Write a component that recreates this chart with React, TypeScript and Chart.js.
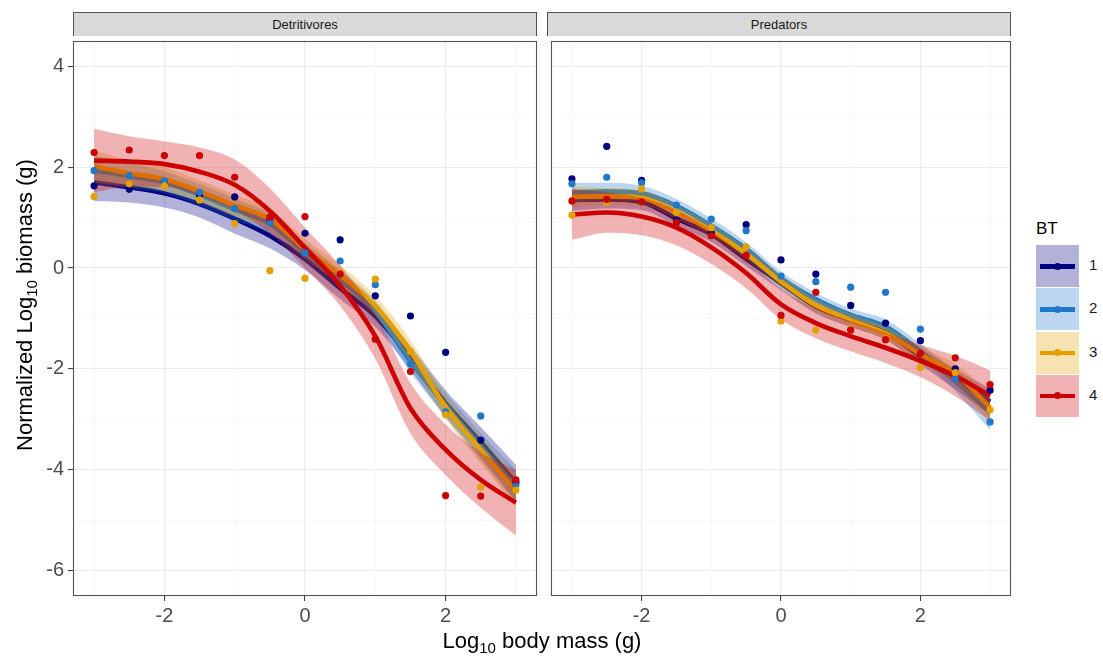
import React, { useEffect, useRef } from 'react';
import { Chart, registerables } from 'chart.js';

Chart.register(...registerables);

// ---------- data ----------
const xValues = [-3, -2.5, -2, -1.5, -1, -0.5, 0, 0.5, 1, 1.5, 2, 2.5, 3];
const groupLabels = ['1', '2', '3', '4'];
const panelTitles = ['Detritivores', 'Predators'];
const xGridValues = [-3, -2, -1, 0, 1, 2, 3];
const xLabelValues = [-2, 0, 2];
const yGridValues = [-6, -5, -4, -3, -2, -1, 0, 1, 2, 3, 4];
const yLabelValues = [-6, -4, -2, 0, 2, 4];

// Detritivores: observed points
const detPointsBT1 = [1.63, 1.56, 1.72, 1.45, 1.41, 0.95, 0.69, 0.56, -0.55, -0.95, -1.67, -3.41, -4.25];
const detPointsBT2 = [1.93, 1.83, 1.73, 1.5, 1.18, 0.9, 0.3, 0.14, -0.33, -1.9, -2.85, -2.93, -4.3];
const detPointsBT3 = [1.42, 1.67, 1.63, 1.35, 0.88, -0.05, -0.2, -0.09, -0.22, -1.65, -2.91, -4.34, -4.4];
const detPointsBT4 = [2.29, 2.34, 2.23, 2.23, 1.8, 1.01, 1.02, -0.12, -1.41, -2.05, -4.51, -4.52, -4.2];
// Detritivores: smoothed fits
const detFitBT1 = [1.7, 1.6, 1.48, 1.27, 0.98, 0.64, 0.18, -0.4, -0.95, -1.78, -2.68, -3.45, -4.26];
const detFitBT2 = [1.93, 1.83, 1.7, 1.45, 1.16, 0.88, 0.3, -0.24, -0.85, -1.85, -2.72, -3.54, -4.33];
const detFitBT3 = [2.01, 1.88, 1.76, 1.52, 1.24, 0.97, 0.38, -0.14, -0.75, -1.65, -2.75, -3.6, -4.42];
const detFitBT4 = [2.13, 2.11, 2.06, 1.91, 1.65, 1.13, 0.4, -0.35, -1.35, -2.78, -3.6, -4.2, -4.65];
// Detritivores: confidence band half-widths
const detSeBT1 = [0.37, 0.3, 0.28, 0.27, 0.3, 0.25, 0.22, 0.22, 0.22, 0.24, 0.26, 0.3, 0.36];
const detSeBT2 = [0.3, 0.25, 0.22, 0.22, 0.22, 0.2, 0.2, 0.2, 0.2, 0.22, 0.24, 0.27, 0.32];
const detSeBT3 = [0.32, 0.26, 0.24, 0.22, 0.22, 0.2, 0.2, 0.2, 0.2, 0.22, 0.24, 0.27, 0.32];
const detSeBT4 = [0.63, 0.5, 0.45, 0.48, 0.5, 0.45, 0.4, 0.4, 0.45, 0.5, 0.5, 0.55, 0.65];

// Predators: observed points
const predPointsBT1 = [1.77, 2.41, 1.74, 0.95, 0.7, 0.86, 0.16, -0.12, -0.74, -1.09, -1.44, -2.0, -2.42];
const predPointsBT2 = [1.67, 1.8, 1.69, 1.25, 0.97, 0.74, -0.16, -0.27, -0.38, -0.48, -1.21, -2.2, -3.05];
const predPointsBT3 = [1.05, 1.3, 1.57, 1.1, 0.8, 0.42, -1.05, -1.23, -1.2, -1.4, -1.97, -2.07, -2.81];
const predPointsBT4 = [1.33, 1.36, 1.31, 0.9, 0.64, 0.25, -0.94, -0.48, -1.23, -1.42, -1.69, -1.78, -2.31];
// Predators: smoothed fits
const predFitBT1 = [1.35, 1.36, 1.31, 0.98, 0.67, 0.18, -0.3, -0.76, -1.03, -1.27, -1.75, -2.2, -2.65];
const predFitBT2 = [1.49, 1.52, 1.48, 1.23, 0.84, 0.38, -0.2, -0.62, -0.93, -1.16, -1.65, -2.24, -2.86];
const predFitBT3 = [1.41, 1.42, 1.39, 1.11, 0.74, 0.28, -0.27, -0.74, -1.03, -1.29, -1.71, -2.1, -2.76];
const predFitBT4 = [1.06, 1.1, 1.02, 0.8, 0.41, -0.1, -0.72, -1.09, -1.35, -1.58, -1.84, -2.14, -2.53];
// Predators: confidence band half-widths
const predSeBT1 = [0.22, 0.18, 0.16, 0.15, 0.15, 0.14, 0.14, 0.14, 0.14, 0.15, 0.16, 0.2, 0.26];
const predSeBT2 = [0.2, 0.17, 0.15, 0.14, 0.14, 0.13, 0.13, 0.13, 0.13, 0.14, 0.15, 0.2, 0.35];
const predSeBT3 = [0.2, 0.17, 0.15, 0.14, 0.14, 0.13, 0.13, 0.13, 0.13, 0.14, 0.15, 0.2, 0.3];
const predSeBT4 = [0.5, 0.4, 0.37, 0.35, 0.33, 0.3, 0.3, 0.3, 0.3, 0.3, 0.32, 0.4, 0.5];

// ---------- styles ----------
const lineColors = ['#00007f', '#1f78c8', '#e69f00', '#cc0000'];
const ribbonColors = [
  'rgba(0,0,128,0.3)',
  'rgba(31,120,200,0.3)',
  'rgba(230,159,0,0.3)',
  'rgba(204,0,0,0.3)',
];
const FONT = '"Liberation Sans", Arial, sans-serif';

const panelBorder = {
  id: 'panelBorder',
  afterDraw(chart: any) {
    const { ctx, chartArea } = chart;
    ctx.save();
    ctx.strokeStyle = '#555555';
    ctx.lineWidth = 1.1;
    ctx.strokeRect(chartArea.left + 0.5, chartArea.top + 0.5, chartArea.right - chartArea.left - 1, chartArea.bottom - chartArea.top - 1);
    ctx.restore();
  },
};

function buildDatasets(points: number[][], fits: number[][], ses: number[][]) {
  const ds: any[] = [];
  for (let g = 0; g < 4; g++) {
    const lower = xValues.map((x, i) => ({ x, y: fits[g][i] - ses[g][i] }));
    const upper = xValues.map((x, i) => ({ x, y: fits[g][i] + ses[g][i] }));
    const fit = xValues.map((x, i) => ({ x, y: fits[g][i] }));
    const pts = xValues.map((x, i) => ({ x, y: points[g][i] }));
    const base = 100 - g * 3;
    const smooth = { cubicInterpolationMode: 'monotone' };
    ds.push({
      type: 'line', label: 'lo' + g, data: lower, showLine: true, borderWidth: 0,
      borderColor: 'rgba(0,0,0,0)', pointRadius: 0, fill: false, order: base, ...smooth,
    });
    ds.push({
      type: 'line', label: 'hi' + g, data: upper, showLine: true, borderWidth: 0,
      borderColor: 'rgba(0,0,0,0)', pointRadius: 0, fill: '-1', backgroundColor: ribbonColors[g],
      order: base - 1, ...smooth,
    });
    ds.push({
      type: 'line', label: 'fit' + g, data: fit, showLine: true, borderWidth: 4.6,
      borderColor: lineColors[g], pointRadius: 0, fill: false, order: base - 2,
      borderCapStyle: 'butt', borderJoinStyle: 'round', ...smooth,
    });
    ds.push({
      type: 'scatter', label: 'pts' + g, data: pts, showLine: false, pointRadius: 3.6,
      pointBorderWidth: 0, backgroundColor: lineColors[g], borderColor: lineColors[g], order: 10 - g,
    });
  }
  return ds;
}

function Panel(props: { points: number[][]; fits: number[][]; ses: number[][]; showY: boolean; left: number; width: number }) {
  const ref = useRef<HTMLCanvasElement>(null);
  useEffect(() => {
    const canvas = ref.current!;
    const yWidth = props.showY ? 73 : 0;
    const chart = new Chart(canvas, {
      type: 'scatter',
      data: { datasets: buildDatasets(props.points, props.fits, props.ses) },
      options: {
        animation: false,
        responsive: false,
        devicePixelRatio: 1,
        layout: { padding: { left: 0, right: 8, top: 0.5, bottom: 0 } },
        plugins: { legend: { display: false }, tooltip: { enabled: false } },
        scales: {
          x: {
            type: 'linear', min: -3.3, max: 3.3,
            afterBuildTicks: (axis: any) => { axis.ticks = xGridValues.map((v) => ({ value: v })); },
            afterFit: (axis: any) => { axis.height = 41; axis.paddingLeft = 0; axis.paddingRight = 0; },
            border: { display: false },
            grid: {
              color: (c: any) => (xLabelValues.includes(c.tick?.value) ? '#ebebeb' : '#f2f2f2'),
              lineWidth: (c: any) => (xLabelValues.includes(c.tick?.value) ? 1.1 : 0.6),
              tickColor: (c: any) => (xLabelValues.includes(c.tick?.value) ? '#444444' : 'rgba(0,0,0,0)'),
              tickLength: 5,
              tickWidth: 1.1,
            },
            ticks: {
              autoSkip: false, maxRotation: 0, padding: 3,
              color: '#4d4d4d', font: { family: FONT, size: 20 },
              callback: (v: any) => (xLabelValues.includes(Number(v)) ? String(v) : ''),
            },
          },
          y: {
            type: 'linear', min: -6.5, max: 4.5,
            afterBuildTicks: (axis: any) => { axis.ticks = yGridValues.map((v) => ({ value: v })); },
            afterFit: (axis: any) => { axis.width = yWidth; axis.paddingTop = 0; axis.paddingBottom = 0; },
            border: { display: false },
            grid: {
              color: (c: any) => (yLabelValues.includes(c.tick?.value) ? '#ebebeb' : '#f2f2f2'),
              lineWidth: (c: any) => (yLabelValues.includes(c.tick?.value) ? 1.1 : 0.6),
              tickColor: (c: any) => (props.showY && yLabelValues.includes(c.tick?.value) ? '#444444' : 'rgba(0,0,0,0)'),
              tickLength: props.showY ? 5 : 0,
              drawTicks: props.showY,
              tickWidth: 1.1,
            },
            ticks: {
              display: props.showY, autoSkip: false, padding: 4,
              color: '#4d4d4d', font: { family: FONT, size: 20 },
              callback: (v: any) => (yLabelValues.includes(Number(v)) ? String(v) : ''),
            },
          },
        },
      },
      plugins: [panelBorder],
    } as any);
    return () => chart.destroy();
  }, []);
  return (
    <canvas
      ref={ref}
      width={props.width}
      height={600}
      style={{ position: 'absolute', left: props.left, top: 37, width: props.width, height: 600 }}
    />
  );
}

const stripStyle: React.CSSProperties = {
  position: 'absolute', top: 12, height: 24, background: '#d9d9d9',
  border: '1px solid #555555', borderBottom: 'none', boxSizing: 'border-box',
  font: '13px "Liberation Sans Narrow", "Liberation Sans", Arial, sans-serif', color: '#1a1a1a',
  display: 'flex', alignItems: 'center', justifyContent: 'center', fontStretch: 'condensed',
};

export default function App() {
  return (
    <div style={{ position: 'absolute', left: 0, top: 0, width: 1103, height: 661, background: '#ffffff', overflow: 'hidden', fontFamily: FONT }}>
      <div style={{ ...stripStyle, left: 73, width: 464 }}>{panelTitles[0]}</div>
      <div style={{ ...stripStyle, left: 547, width: 464 }}>{panelTitles[1]}</div>
      <Panel
        points={[detPointsBT1, detPointsBT2, detPointsBT3, detPointsBT4]}
        fits={[detFitBT1, detFitBT2, detFitBT3, detFitBT4]}
        ses={[detSeBT1, detSeBT2, detSeBT3, detSeBT4]}
        showY={true}
        left={0}
        width={545}
      />
      <Panel
        points={[predPointsBT1, predPointsBT2, predPointsBT3, predPointsBT4]}
        fits={[predFitBT1, predFitBT2, predFitBT3, predFitBT4]}
        ses={[predSeBT1, predSeBT2, predSeBT3, predSeBT4]}
        showY={false}
        left={547}
        width={472}
      />
      {/* x title */}
      <div style={{ position: 'absolute', left: 73, width: 938, top: 628, textAlign: 'center', fontSize: 22, color: '#000' }}>
        Log<sub style={{ fontSize: 15 }}>10</sub> body mass (g)
      </div>
      {/* y title */}
      <div style={{ position: 'absolute', left: 25 - 300, top: 305 - 15, width: 600, height: 30, lineHeight: '30px', textAlign: 'center', fontSize: 22, color: '#000', transform: 'rotate(-90deg)' }}>
        Normalized Log<sub style={{ fontSize: 15, lineHeight: 0 }}>10</sub> biomass (g)
      </div>
      {/* legend */}
      <div style={{ position: 'absolute', left: 1036, top: 219, fontSize: 17, color: '#000' }}>BT</div>
      {groupLabels.map((lab, g) => (
        <div key={lab}>
          <div style={{ position: 'absolute', left: 1036, top: 245 + g * 43.3, width: 43, height: 42, background: ribbonColors[g] }}>
            <div style={{ position: 'absolute', left: 4, right: 4, top: 19, height: 4.5, background: lineColors[g] }} />
            <div style={{ position: 'absolute', left: 18, top: 17.5, width: 7, height: 7, borderRadius: 4, background: lineColors[g] }} />
          </div>
          <div style={{ position: 'absolute', left: 1089, top: 256 + g * 43.3, fontSize: 15, color: '#1a1a1a' }}>{lab}</div>
        </div>
      ))}
    </div>
  );
}
